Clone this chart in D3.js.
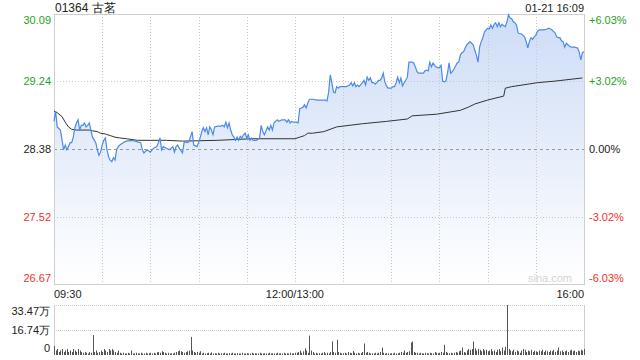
<!DOCTYPE html>
<html><head><meta charset="utf-8">
<script src="https://cdn.jsdelivr.net/npm/d3@7/dist/d3.min.js"></script>
<style>
html,body{margin:0;padding:0;background:#fff;}
svg{display:block;font-family:Arial,"Liberation Sans",sans-serif;}
</style></head>
<body><svg id="c" width="640" height="360"></svg>
<script>
const title = "01364 古茗";
const stamp = "01-21 16:09";
const prevClose = 28.38;
const priceTicks = [30.09, 29.24, 28.38, 27.52, 26.67];
const pctTicks = ["+6.03%", "+3.02%", "0.00%", "-3.02%", "-6.03%"];
const timeLabels = ["09:30", "12:00/13:00", "16:00"];
const timeLabelMinutes = [0, 150, 330];
const volTicks = [33.47, 16.74, 0];

// price: trading-minute index (0 = 09:30, 150 = 12:00/13:00, 330 = 16:00) and price
const priceMin = [0,1,2,4,6,7,8,9,10,11,12,13,14,15,16,17,18,19,20,21,22,23,24,26,27,28,29,30,31,32,33,34,35,36,37,38,39,40,41,43,45,49,52,54,55,56,58,60,62,64,65,66,67,68,70,72,74,75,76,77,78,80,81,82,83,84,
86,87,89,90,91,92,93,94,95,96,97,98,99,100,102,104,105,106,107,108,109,110,111,112,113,114,115,116,117,118,119,120,121,122,123,124,126,128,129,130,131,133,134,135,136,137,138,139,140,142,144,145,146,147,148,149,150,
151,152,153,154,155,156,157,158,159,161,164,167,169,170,171,172,173,174,175,176,177,178,179,180,182,184,185,186,187,188,189,190,192,193,194,195,196,197,198,199,200,201,202,203,204,205,206,207,208,210,211,212,213,214,215,216,217,218,219,220,221,223,224,225,226,227,229,230,231,232,233,234,235,236,237,238,239,240,241,242,243,244,245,246,247,248,
249,251,252,253,254,255,256,257,258,259,260,261,262,263,264,265,266,267,268,269,270,271,272,273,274,275,276,277,278,279,280,281,282,283,284,285,286,287,288,289,290,291,292,293,294,295,296,297,298,299,300,301,302,303,304,305,307,308,309,310,311,312,313,314,315,316,317,318,319,320,321,322,323,324,326,327,328,329,330];
const price = [28.73,28.86,28.66,28.62,28.37,28.43,28.37,28.41,28.46,28.46,28.53,28.65,28.71,28.75,28.62,28.68,28.68,28.71,28.66,28.68,28.71,28.62,28.53,28.46,28.37,28.30,28.34,28.43,28.49,28.52,28.37,28.28,28.24,28.22,28.27,28.24,28.37,28.41,28.43,28.46,28.48,28.49,28.47,28.46,28.37,28.33,28.37,28.34,28.39,28.41,28.46,28.52,28.37,28.41,28.39,28.37,28.41,28.34,28.41,28.43,28.39,28.33,28.46,28.47,28.46,28.47,
28.60,28.43,28.41,28.46,28.52,28.60,28.65,28.60,28.65,28.56,28.66,28.62,28.56,28.66,28.67,28.67,28.68,28.66,28.72,28.65,28.71,28.62,28.56,28.53,28.49,28.53,28.49,28.54,28.52,28.56,28.58,28.52,28.56,28.49,28.52,28.49,28.49,28.52,28.68,28.60,28.56,28.66,28.62,28.68,28.62,28.71,28.73,28.75,28.73,28.75,28.75,28.72,28.75,28.71,28.73,28.72,28.72,
28.72,28.71,28.89,28.90,28.91,28.94,28.90,28.96,29.01,29.01,29.00,29.00,29.00,28.99,29.10,29.32,29.22,29.10,29.09,29.17,29.15,29.17,29.17,29.17,29.17,29.19,29.22,29.18,29.22,29.17,29.19,29.17,29.22,29.25,29.19,29.29,29.25,29.28,29.22,29.22,29.20,29.22,29.25,29.25,29.28,29.34,29.23,29.18,29.15,29.15,29.17,29.17,29.22,29.29,29.22,29.28,29.18,29.22,29.25,29.29,29.48,29.48,29.47,29.42,29.36,29.34,29.34,29.34,29.37,29.38,29.37,29.48,29.42,29.47,29.44,29.42,29.41,29.41,29.44,29.24,29.23,29.24,29.34,29.47,29.34,29.36,
29.39,29.47,29.48,29.57,29.60,29.61,29.66,29.70,29.72,29.74,29.72,29.70,29.63,29.57,29.48,29.67,29.74,29.79,29.86,29.89,29.91,29.90,29.95,29.91,29.96,29.98,29.93,29.98,29.93,29.96,29.94,29.93,29.99,30.08,30.04,30.03,29.99,29.98,29.95,29.85,29.84,29.84,29.82,29.80,29.74,29.66,29.74,29.79,29.77,29.80,29.82,29.87,29.89,29.89,29.89,29.89,29.90,29.91,29.90,29.89,29.87,29.85,29.80,29.79,29.79,29.75,29.74,29.67,29.72,29.70,29.68,29.67,29.67,29.67,29.66,29.61,29.51,29.60,29.61];

// average price line
const avgMin = [0,2,5,7,9,11,14,18,22,24,27,29,32,35,38,41,45,52,60,70,80,102,123,150,153,156,158,161,168,176,192,207,220,223,238,253,258,262,270,280,281,285,301,312,329];
const avgPrice = [28.86,28.84,28.79,28.72,28.66,28.63,28.62,28.62,28.62,28.61,28.60,28.58,28.57,28.55,28.53,28.52,28.51,28.49,28.49,28.49,28.48,28.49,28.51,28.51,28.53,28.55,28.58,28.58,28.60,28.66,28.70,28.73,28.76,28.80,28.82,28.87,28.91,28.95,29.00,29.05,29.15,29.17,29.22,29.24,29.28];

// volume per trading minute, in 万 shares (index = minute 0..330)
const volume = [
6,3,4,2,3,4,2,3,4,2, 3,2,4,3,2,4,3,2,1.5,2, 1.5,1,2,1.5,13.3,2,3,1.5,2,3,
2,4,3,2,4,3,4,3,2,1.5, 3,1.5,1,1.5,1,1,1.5,1,3,1, 1,1.5,1,1,1.5,1,1,1.5,1,1.2,
1.5,1,1.5,1,1.8,2,1.5,2.5,2,1.5, 1,1.5,1,1.2,1,1.5,2,2.5,3,2.5, 2,1.5,2,2.5,3,12.1,3,2,1.5,2,
1.5,2.5,1,1.5,1,1.2,1.5,1,1.8,1, 1.2,1,1.5,1,1.2,1,1.5,1,1,1.2, 1,1.5,1,1,1.2,1,1,1.5,1,1,
1.2,1,1,1.5,1,1.2,1,1,1.5,1, 1,1.2,1,1,1.5,1,1.2,1,1,1.5, 1,1.2,1,1.5,1,1.2,1,1.5,1,1.2,
1.5,1.5,2,3,1.5,2.5,4.5,3,1.5,13, 3,2,1,1.5,1,1.2,1,1.5,2,1, 1.5,1,2,9.1,2,1.5,10.2,2,1.5,1,
1.2,1.5,1,2,1.5,1.2,2.7,1.5,1,1.5, 1,1.2,2,7.7,1.5,2,1.5,1,1.2,1, 1.5,1,1.5,2,5,1.5,1,1.2,1,1,
1.2,1,1.5,1,1.2,1.5,2,1.5,3,1.5, 2,2.5,8.4,9,2,1.5,1.5,1,1.5,1.2, 1,1.5,1.2,1,1.5,1.2,1,2,1.5,1.2,
1.5,2,1.5,6.8,2,1.5,1.2,1.5,1,1.5, 2,1.5,2.5,3,5,2,1.5,3,4,3.5, 4,9,4.5,3,4,3.5,2.5,4,3,3.5,
2.5,3,4,2.5,3,2,3.5,4,2.5,5, 3,5.5,33.47,4,3,2.5,3.5,2,3,2.5, 1.5,3,4,3.5,2,3,2.5,3.5,2,3,
2.5,2,3,2.5,3.5,2,3,2.5,2,3, 2.5,3.5,2,3,5,2.5,3,2,2.5,3, 2,3,3.5,2.5,3,2,3,2.5,3.5,3,4];

const svg = d3.select("#c");
const L = 54, R = 584, T = 14, B = 284;
const VT = 305, VB = 355;
const x = d3.scaleLinear().domain([0, 330]).range([L, R]);
const y = d3.scaleLinear().domain([priceTicks[4], priceTicks[0]]).range([B, T]);
const yv = d3.scaleLinear().domain([0, volTicks[0]]).range([VB, VT]);
const green = "#1ea21e", red = "#f0302a", grid = "#c8c8c8";

// gradient
const defs = svg.append("defs");
const grad = defs.append("linearGradient").attr("id", "g").attr("gradientUnits", "userSpaceOnUse")
  .attr("x1", 0).attr("y1", T).attr("x2", 0).attr("y2", B);
grad.append("stop").attr("offset", 0).attr("stop-color", "#cddcf6");
grad.append("stop").attr("offset", 1).attr("stop-color", "#ffffff");

const pts = priceMin.map((m, i) => [m, price[i]]);
svg.append("path").datum(pts)
  .attr("d", d3.area().x(d => x(d[0])).y0(B).y1(d => y(d[1])))
  .attr("fill", "url(#g)");

// grid
const vMinutes = d3.range(30, 330, 30);
svg.append("g").selectAll("line").data(vMinutes).join("line")
  .attr("x1", d => Math.round(x(d)) + 0.5).attr("x2", d => Math.round(x(d)) + 0.5)
  .attr("y1", T).attr("y2", B).attr("stroke", grid).attr("stroke-dasharray", "1,2");
svg.append("g").selectAll("line").data(priceTicks.slice(1, 4)).join("line")
  .attr("x1", L).attr("x2", R)
  .attr("y1", d => Math.round(y(d)) + 0.5).attr("y2", d => Math.round(y(d)) + 0.5)
  .attr("stroke", d => d === prevClose ? "#999" : grid)
  .attr("stroke-dasharray", d => d === prevClose ? "3,3" : "1,2");
svg.append("rect").attr("x", L + 0.5).attr("y", T + 0.5).attr("width", R - L).attr("height", B - T)
  .attr("fill", "none").attr("stroke", "#cfcfcf");

// watermark
svg.append("text").attr("x", R - 12).attr("y", B - 2).attr("text-anchor", "end")
  .attr("font-size", 11).attr("fill", "#d4d4d4").text("sina.com");

// avg line
svg.append("path").datum(avgMin.map((m, i) => [m, avgPrice[i]]))
  .attr("d", d3.line().x(d => x(d[0])).y(d => y(d[1])))
  .attr("fill", "none").attr("stroke", "#333").attr("stroke-width", 1);

// price line
svg.append("path").datum(pts)
  .attr("d", d3.line().x(d => x(d[0])).y(d => y(d[1])))
  .attr("fill", "none").attr("stroke", "#4c8ae8").attr("stroke-width", 1.2);

// labels
const col = i => i < 2 ? green : (i === 2 ? "#222" : red);
const labelY = (d, i) => i === 0 ? y(d) + 6 : (i === 4 ? y(d) - 6 : y(d));
svg.append("g").selectAll("text").data(priceTicks).join("text")
  .attr("x", L - 3).attr("y", labelY).attr("dy", "0.35em").attr("text-anchor", "end")
  .attr("font-size", 11).attr("fill", (d, i) => col(i)).text(d => d.toFixed(2));
svg.append("g").selectAll("text").data(pctTicks).join("text")
  .attr("x", R + 5).attr("y", (d, i) => labelY(priceTicks[i], i)).attr("dy", "0.35em")
  .attr("font-size", 11).attr("fill", (d, i) => col(i)).text(d => d);

svg.append("text").attr("x", L + 1).attr("y", 8).attr("dy", "0.35em").attr("font-size", 12)
  .attr("fill", "#222").text(title);
svg.append("text").attr("x", R).attr("y", 8).attr("dy", "0.35em").attr("font-size", 11)
  .attr("text-anchor", "end").attr("fill", "#222").text(stamp);

svg.append("g").selectAll("text").data(timeLabels).join("text")
  .attr("x", (d, i) => x(timeLabelMinutes[i]))
  .attr("y", 294).attr("dy", "0.35em").attr("font-size", 11).attr("fill", "#222")
  .attr("text-anchor", (d, i) => i === 0 ? "start" : (i === 1 ? "middle" : "end"))
  .text(d => d);

// volume panel
svg.append("g").selectAll("line").data(volTicks.slice(0, 2)).join("line")
  .attr("x1", L).attr("x2", R)
  .attr("y1", d => Math.round(yv(d)) + 0.5).attr("y2", d => Math.round(yv(d)) + 0.5)
  .attr("stroke", grid).attr("stroke-dasharray", "1,1");
svg.append("line").attr("x1", L + 0.5).attr("x2", L + 0.5).attr("y1", VT).attr("y2", VB).attr("stroke", "#cfcfcf");
svg.append("line").attr("x1", R + 0.5).attr("x2", R + 0.5).attr("y1", VT).attr("y2", VB).attr("stroke", "#cfcfcf");
svg.append("g").selectAll("line").data(volume).join("line")
  .attr("x1", (d, i) => Math.round(x(i)) + 0.5).attr("x2", (d, i) => Math.round(x(i)) + 0.5)
  .attr("y1", VB).attr("y2", d => yv(d)).attr("stroke", "#555").attr("stroke-width", 1);
svg.append("g").selectAll("text").data(volTicks).join("text")
  .attr("x", L - 4).attr("y", (d, i) => i === 0 ? yv(d) + 6 : (i === 2 ? yv(d) - 7 : yv(d)))
  .attr("dy", "0.35em").attr("text-anchor", "end").attr("font-size", 11).attr("fill", "#222")
  .text(d => d === 0 ? "0" : d.toFixed(2) + "万");
</script></body></html>
